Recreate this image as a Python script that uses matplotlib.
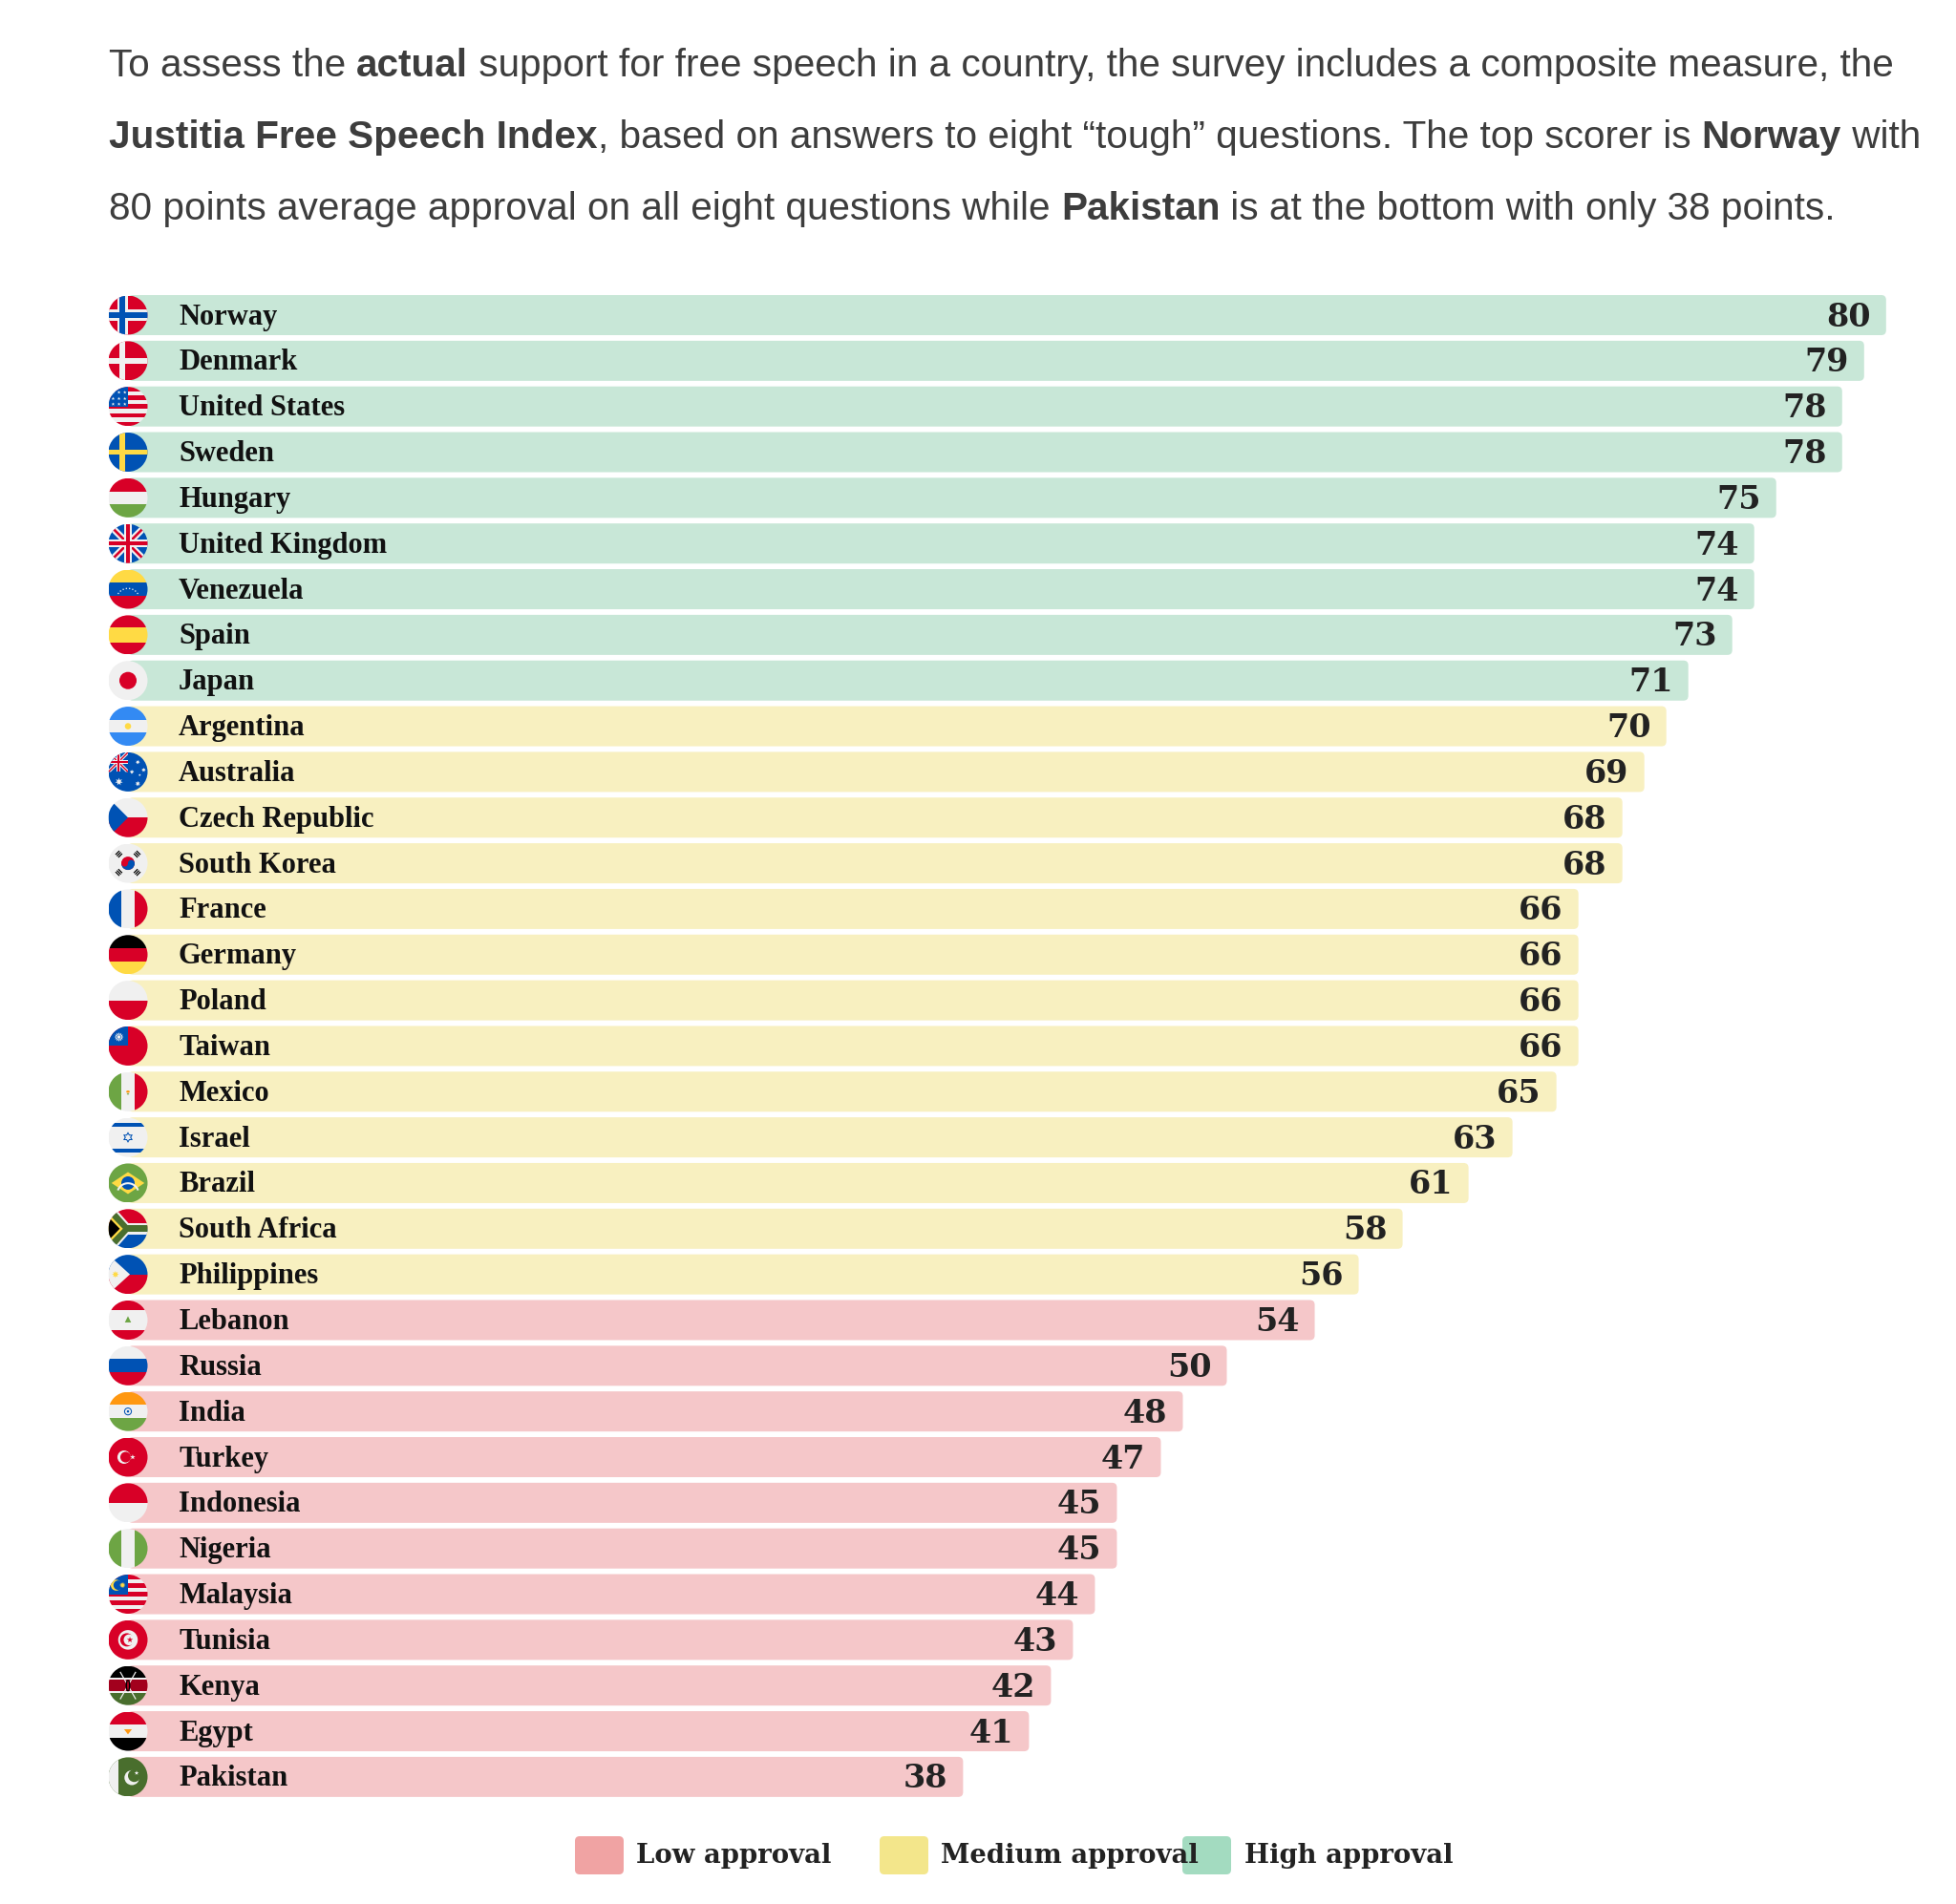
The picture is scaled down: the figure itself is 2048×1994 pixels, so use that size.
"""Justitia Free Speech Index: horizontal bars with circular flags."""
import numpy as np
import matplotlib
matplotlib.use("Agg")
import matplotlib.pyplot as plt
from matplotlib.patches import Circle, Rectangle, Polygon, Wedge, Ellipse, FancyBboxPatch
from matplotlib.transforms import ScaledTranslation

countries = ["Norway", "Denmark", "United States", "Sweden", "Hungary", "United Kingdom",
             "Venezuela", "Spain", "Japan", "Argentina", "Australia", "Czech Republic",
             "South Korea", "France", "Germany", "Poland", "Taiwan", "Mexico", "Israel",
             "Brazil", "South Africa", "Philippines", "Lebanon", "Russia", "India", "Turkey",
             "Indonesia", "Nigeria", "Malaysia", "Tunisia", "Kenya", "Egypt", "Pakistan"]
scores = [80, 79, 78, 78, 75, 74, 74, 73, 71, 70, 69, 68, 68, 66, 66, 66, 66, 65, 63,
          61, 58, 56, 54, 50, 48, 47, 45, 45, 44, 43, 42, 41, 38]
levels = ["high"] * 9 + ["medium"] * 13 + ["low"] * 11
legend_labels = ["Low approval", "Medium approval", "High approval"]

BAR = {"high": "#c8e7d7", "medium": "#f8f0c0", "low": "#f5c7c9"}
SWATCH = {"low": "#f0a3a3", "medium": "#f3e68b", "high": "#a3dbc0"}
TXT = "#3d3d3d"

RED, BLUE, WHITE, YELLOW = "#d80027", "#0052b4", "#f0f0f0", "#ffda44"
GREEN, BLACK, ORANGE, LBLUE = "#6da544", "#000000", "#ff9811", "#338af3"

W, H = 2048, 1994
fig = plt.figure(figsize=(W / 100, H / 100), dpi=100)
fig.patch.set_facecolor("white")
ax0 = fig.add_axes([0, 0, 1, 1])
ax0.set_xlim(0, W); ax0.set_ylim(H, 0); ax0.axis("off")
ax0.set_zorder(2)

# ---- header paragraph with bold runs
renderer = fig.canvas.get_renderer()
HFONT = dict(family="Liberation Sans", fontsize=29.2, color=TXT)


def advance(s, weight):
    t = ax0.text(0, 0, "|" + s + "|", fontweight=weight, **HFONT)
    w1 = t.get_window_extent(renderer).width
    t.remove()
    t = ax0.text(0, 0, "||", fontweight=weight, **HFONT)
    w0 = t.get_window_extent(renderer).width
    t.remove()
    return w1 - w0


lines = [
    [("To assess the ", "normal"), ("actual", "bold"),
     (" support for free speech in a country, the survey includes a composite measure, the", "normal")],
    [("Justitia Free Speech Index", "bold"),
     (", based on answers to eight \u201ctough\u201d questions. The top scorer is ", "normal"),
     ("Norway", "bold"), (" with", "normal")],
    [("80 points average approval on all eight questions while ", "normal"),
     ("Pakistan", "bold"), (" is at the bottom with only 38 points.", "normal")],
]
for k, segs in enumerate(lines):
    x = 114
    y = 80 + 75 * k
    for s, wt in segs:
        ax0.text(x, y, s, fontweight=wt, va="baseline", ha="left", **HFONT)
        x += advance(s, wt)

# ---- bars
UNIT = 23.01
PITCH = 47.84
x0px, top_px = 134, 330 - PITCH / 2
n = len(countries)
ax = fig.add_axes([x0px / W, 1 - (top_px + n * PITCH) / H, 80 * UNIT / W, n * PITCH / H])
ax.set_zorder(1)
ax.set_xlim(0, 80)
ax.set_ylim(n - 0.5, -0.5)
ax.axis("off")

bh = 0.878
down = ScaledTranslation(0, -0.02, fig.dpi_scale_trans)
for i, (c, v, lv) in enumerate(zip(countries, scores, levels)):
    ax.add_patch(FancyBboxPatch((0, i - bh / 2), v, bh,
                                boxstyle="round,pad=0,rounding_size=0.22",
                                mutation_aspect=UNIT / PITCH,
                                fc=BAR[lv], lw=0))
    ax.text(v, i, str(v), ha="right", va="center", family="DejaVu Serif",
            fontweight="bold", fontsize=24, color="#222222",
            transform=ax.transData + ScaledTranslation(-0.16, 0, fig.dpi_scale_trans) + down)
    ax.text(0, i, c, ha="left", va="center", family="Liberation Serif",
            fontweight="bold", fontsize=22, color="#111111",
            transform=ax.transData + ScaledTranslation(0.53, 0, fig.dpi_scale_trans) + down)


# ---- flags (drawn in pixel axes, clipped to circles)
class Flag:
    def __init__(self, cx, cy, r):
        self.cx, self.cy, self.r = cx, cy, r
        self.clip = Circle((cx, cy), r, transform=ax0.transData)

    def xy(self, u, v):
        return (self.cx - self.r + 2 * self.r * u, self.cy - self.r + 2 * self.r * v)

    def add(self, p):
        p.set_clip_path(self.clip)
        ax0.add_patch(p)

    def rect(self, u0, v0, u1, v1, c):
        (a, b), (e, f) = self.xy(u0, v0), self.xy(u1, v1)
        self.add(Rectangle((a, b), e - a, f - b, fc=c, lw=0))

    def poly(self, pts, c):
        self.add(Polygon([self.xy(u, v) for u, v in pts], closed=True, fc=c, lw=0))

    def disc(self, u, v, rad, c):
        self.add(Circle(self.xy(u, v), 2 * self.r * rad, fc=c, lw=0))

    def ellipse(self, u, v, w, h, c):
        self.add(Ellipse(self.xy(u, v), 2 * self.r * w, 2 * self.r * h, fc=c, lw=0))

    def star(self, u, v, rad, c, n=5, inner=0.4):
        pts = []
        for k in range(2 * n):
            a = np.pi / 2 + k * np.pi / n
            rr = rad if k % 2 == 0 else rad * inner
            pts.append((u + rr * np.cos(a), v - rr * np.sin(a)))
        self.poly(pts, c)

    def hstripes(self, cols, wts=None):
        wts = wts or [1] * len(cols)
        e = np.concatenate([[0], np.cumsum(wts)]) / sum(wts)
        for c, a, b in zip(cols, e[:-1], e[1:]):
            self.rect(0, a, 1, b, c)

    def vstripes(self, cols, wts=None):
        wts = wts or [1] * len(cols)
        e = np.concatenate([[0], np.cumsum(wts)]) / sum(wts)
        for c, a, b in zip(cols, e[:-1], e[1:]):
            self.rect(a, 0, b, 1, c)

    def band(self, p, q, hw, c):
        (x1, y1), (x2, y2) = p, q
        d = np.array([x2 - x1, y2 - y1]); d = d / np.hypot(*d)
        nx, ny = -d[1] * hw, d[0] * hw
        self.poly([(x1 + nx, y1 + ny), (x2 + nx, y2 + ny), (x2 - nx, y2 - ny), (x1 - nx, y1 - ny)], c)

    def union_jack(self, u0, v0, s):
        self.rect(u0, v0, u0 + s, v0 + s, BLUE)
        for dw, col in ((0.12, WHITE), (0.045, RED)):
            P = lambda pts: self.poly([(u0 + a * s, v0 + b * s) for a, b in pts], col)
            dd = dw
            P([(0, 0), (dd, 0), (1, 1 - dd), (1, 1), (1 - dd, 1), (0, dd)])
            P([(1 - dd, 0), (1, 0), (1, dd), (dd, 1), (0, 1), (0, 1 - dd)])
        self.rect(u0 + 0.4 * s, v0, u0 + 0.6 * s, v0 + s, WHITE)
        self.rect(u0, v0 + 0.4 * s, u0 + s, v0 + 0.6 * s, WHITE)
        self.rect(u0 + 0.45 * s, v0, u0 + 0.55 * s, v0 + s, RED)
        self.rect(u0, v0 + 0.45 * s, u0 + s, v0 + 0.55 * s, RED)


def draw_flag(name, f):
    if name == "Norway":
        f.rect(0, 0, 1, 1, RED)
        f.rect(0.22, 0, 0.50, 1, WHITE); f.rect(0, 0.36, 1, 0.64, WHITE)
        f.rect(0.29, 0, 0.43, 1, BLUE); f.rect(0, 0.43, 1, 0.57, BLUE)
    elif name == "Denmark":
        f.rect(0, 0, 1, 1, RED)
        f.rect(0.28, 0, 0.43, 1, WHITE); f.rect(0, 0.43, 1, 0.57, WHITE)
    elif name == "Sweden":
        f.rect(0, 0, 1, 1, BLUE)
        f.rect(0.28, 0, 0.43, 1, YELLOW); f.rect(0, 0.43, 1, 0.57, YELLOW)
    elif name == "United States":
        f.hstripes([RED, WHITE] * 4 + [RED])
        f.rect(0, 0, 0.5, 0.5, BLUE)
        for a, b in ((0.12, 0.14), (0.27, 0.14), (0.42, 0.14), (0.12, 0.3), (0.27, 0.3),
                     (0.42, 0.3), (0.12, 0.44), (0.27, 0.44), (0.42, 0.44)):
            f.star(a, b, 0.045, WHITE)
    elif name == "Hungary":
        f.hstripes([RED, WHITE, GREEN])
    elif name == "United Kingdom":
        f.union_jack(0, 0, 1)
    elif name == "Venezuela":
        f.hstripes([YELLOW, BLUE, RED])
        for a in np.linspace(np.radians(35), np.radians(145), 8):
            f.disc(0.5 + 0.3 * np.cos(a), 0.78 - 0.3 * np.sin(a), 0.018, WHITE)
    elif name == "Spain":
        f.hstripes([RED, YELLOW, RED], [1, 1.2, 1])
    elif name == "Japan":
        f.rect(0, 0, 1, 1, WHITE); f.disc(0.5, 0.5, 0.22, RED)
    elif name == "Argentina":
        f.hstripes([LBLUE, WHITE, LBLUE]); f.disc(0.5, 0.5, 0.08, YELLOW)
    elif name == "Australia":
        f.rect(0, 0, 1, 1, BLUE)
        f.union_jack(0, 0, 0.5)
        f.star(0.27, 0.75, 0.1, WHITE, n=7, inner=0.45)
        for a, b, s in ((0.75, 0.25, 0.06), (0.6, 0.5, 0.06), (0.9, 0.45, 0.06),
                        (0.75, 0.8, 0.07), (0.8, 0.58, 0.035)):
            f.star(a, b, s, WHITE, n=7, inner=0.45)
    elif name == "Czech Republic":
        f.hstripes([WHITE, RED]); f.poly([(0, 0), (0.5, 0.5), (0, 1)], BLUE)
    elif name == "South Korea":
        f.rect(0, 0, 1, 1, WHITE)
        f.disc(0.5, 0.5, 0.17, RED)
        f.add(Wedge(f.xy(0.5, 0.5), 2 * f.r * 0.17, 0, 180, fc=BLUE, lw=0))
        f.disc(0.415, 0.5, 0.085, RED); f.disc(0.585, 0.5, 0.085, BLUE)
        for sx, sy in ((-1, -1), (1, -1), (-1, 1), (1, 1)):
            d = np.array([sx, sy]) / np.sqrt(2)
            p = np.array([-d[1], d[0]])
            for off in (-0.05, 0, 0.05):
                c0 = np.array([0.5, 0.5]) + d * (0.33 + off)
                f.band(tuple(c0 - p * 0.07), tuple(c0 + p * 0.07), 0.015, BLACK)
    elif name == "France":
        f.vstripes([BLUE, WHITE, RED])
    elif name == "Germany":
        f.hstripes([BLACK, RED, YELLOW])
    elif name == "Poland":
        f.hstripes([WHITE, RED])
    elif name == "Taiwan":
        f.rect(0, 0, 1, 1, RED); f.rect(0, 0, 0.5, 0.5, BLUE)
        f.star(0.27, 0.27, 0.12, WHITE, n=12, inner=0.6)
        f.disc(0.27, 0.27, 0.06, BLUE); f.disc(0.27, 0.27, 0.045, WHITE)
    elif name == "Mexico":
        f.vstripes([GREEN, WHITE, RED])
        f.ellipse(0.5, 0.5, 0.09, 0.06, ORANGE); f.ellipse(0.5, 0.56, 0.06, 0.03, GREEN)
    elif name == "Israel":
        f.rect(0, 0, 1, 1, WHITE)
        f.rect(0, 0.12, 1, 0.22, BLUE); f.rect(0, 0.78, 1, 0.88, BLUE)
        for s, col in ((0.14, BLUE), (0.09, WHITE)):
            f.poly([(0.5, 0.5 - s), (0.5 + s * 0.87, 0.5 + s / 2), (0.5 - s * 0.87, 0.5 + s / 2)], col)
            f.poly([(0.5, 0.5 + s), (0.5 + s * 0.87, 0.5 - s / 2), (0.5 - s * 0.87, 0.5 - s / 2)], col)
    elif name == "Brazil":
        f.rect(0, 0, 1, 1, GREEN)
        f.poly([(0.08, 0.5), (0.5, 0.22), (0.92, 0.5), (0.5, 0.78)], YELLOW)
        f.disc(0.5, 0.5, 0.17, "#0052b4")
        t = np.linspace(np.radians(200), np.radians(340), 20)
        outer = [(0.5 + 0.3 * np.cos(a), 0.78 + 0.3 * np.sin(a)) for a in t]
        inner = [(0.5 + 0.25 * np.cos(a), 0.78 + 0.25 * np.sin(a)) for a in t[::-1]]
        f.poly(outer + inner, WHITE)
    elif name == "South Africa":
        f.rect(0, 0, 1, 0.5, RED); f.rect(0, 0.5, 1, 1, BLUE)
        for hw, col in ((0.14, WHITE), (0.09, "#496e2d")):
            f.band((-0.1, -0.12), (0.45, 0.5), hw, col)
            f.band((-0.1, 1.12), (0.45, 0.5), hw, col)
            f.rect(0.4, 0.5 - hw, 1, 0.5 + hw, col)
        f.poly([(0, 0.12), (0.37, 0.5), (0, 0.88)], YELLOW)
        f.poly([(0, 0.2), (0.29, 0.5), (0, 0.8)], BLACK)
    elif name == "Philippines":
        f.rect(0, 0, 1, 0.5, BLUE); f.rect(0, 0.5, 1, 1, RED)
        f.poly([(0, 0), (0.55, 0.5), (0, 1)], WHITE)
        f.star(0.18, 0.5, 0.09, YELLOW, n=8, inner=0.5); f.disc(0.18, 0.5, 0.04, YELLOW)
    elif name == "Lebanon":
        f.hstripes([RED, WHITE, RED], [1, 2, 1])
        f.poly([(0.5, 0.4), (0.58, 0.56), (0.42, 0.56)], GREEN)
    elif name == "Russia":
        f.hstripes([WHITE, BLUE, RED])
    elif name == "India":
        f.hstripes([ORANGE, WHITE, GREEN])
        f.disc(0.5, 0.5, 0.1, "#0052b4"); f.disc(0.5, 0.5, 0.075, WHITE)
        f.disc(0.5, 0.5, 0.03, "#0052b4")
    elif name == "Turkey":
        f.rect(0, 0, 1, 1, RED)
        f.disc(0.4, 0.5, 0.17, WHITE); f.disc(0.44, 0.5, 0.135, RED)
        f.star(0.62, 0.5, 0.07, WHITE)
    elif name == "Indonesia":
        f.hstripes([RED, WHITE])
    elif name == "Nigeria":
        f.vstripes([GREEN, WHITE, GREEN])
    elif name == "Malaysia":
        f.hstripes([RED, WHITE] * 4 + [RED])
        f.rect(0, 0, 0.5, 0.5, BLUE)
        f.disc(0.2, 0.27, 0.14, YELLOW); f.disc(0.25, 0.27, 0.12, BLUE)
        f.star(0.36, 0.27, 0.08, YELLOW, n=14, inner=0.5)
    elif name == "Tunisia":
        f.rect(0, 0, 1, 1, RED)
        f.disc(0.5, 0.5, 0.25, WHITE); f.disc(0.47, 0.5, 0.17, RED)
        f.disc(0.53, 0.5, 0.14, WHITE); f.star(0.55, 0.5, 0.08, RED)
    elif name == "Kenya":
        f.hstripes([BLACK, WHITE, "#a2001d", WHITE, "#496e2d"], [0.3, 0.06, 0.28, 0.06, 0.3])
        f.band((0.3, 0.15), (0.7, 0.85), 0.015, WHITE)
        f.band((0.7, 0.15), (0.3, 0.85), 0.015, WHITE)
        f.ellipse(0.5, 0.5, 0.12, 0.3, BLACK)
        f.ellipse(0.5, 0.5, 0.05, 0.24, "#a2001d")
    elif name == "Egypt":
        f.hstripes([RED, WHITE, BLACK])
        f.poly([(0.4, 0.45), (0.6, 0.45), (0.5, 0.58)], ORANGE)
    elif name == "Pakistan":
        f.rect(0, 0, 1, 1, "#496e2d"); f.rect(0, 0, 0.25, 1, WHITE)
        f.disc(0.6, 0.52, 0.19, WHITE); f.disc(0.66, 0.47, 0.16, "#496e2d")
        f.star(0.72, 0.4, 0.06, WHITE)


for i, c in enumerate(countries):
    disp = ax.transData.transform((0, i))
    cx, cy = ax0.transData.inverted().transform(disp)
    draw_flag(c, Flag(cx, cy, 20.5))

# ---- legend
for lab, lv, sx, tx in zip(legend_labels, ["low", "medium", "high"],
                           [602, 921, 1238], [666, 985, 1303]):
    ax0.add_patch(FancyBboxPatch((sx, 1923), 51, 40, boxstyle="round,pad=0,rounding_size=5",
                                 fc=SWATCH[lv], lw=0))
    ax0.text(tx, 1943, lab, ha="left", va="center", family="DejaVu Serif",
             fontweight="bold", fontsize=19.8, color="#222222")

fig.savefig("out.png", dpi=100, facecolor="white")
